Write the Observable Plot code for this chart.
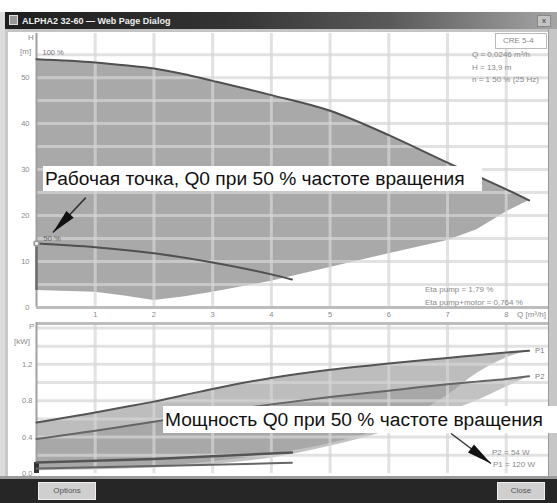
<!DOCTYPE html>
<html><head><meta charset="utf-8">
<script src="https://cdn.jsdelivr.net/npm/d3@7"></script>
<script src="https://cdn.jsdelivr.net/npm/@observablehq/plot@0.6"></script>
<style>
body{margin:0;background:#fff;font-family:Arial,"Liberation Sans",sans-serif}
#win{position:relative;width:557px;height:503px;overflow:hidden;background:#fff}
.abs{position:absolute}
.small{position:absolute;font-size:8px;color:#8a8a8a;white-space:nowrap;line-height:1}
.note{position:absolute;background:#fff;color:#111;font-size:19.2px;white-space:nowrap;box-sizing:border-box;padding-left:2px}
.btn{position:absolute;background:#cfcfcf;border:1px solid #eee;color:#555;font-size:8px;text-align:center;line-height:16px;box-sizing:border-box}
</style></head><body>
<div id="win">
  <div class="abs" style="left:0;top:12px;width:5px;height:491px;background:#dcdcdc"></div>
  <div class="abs" style="left:5px;top:12px;width:552px;height:17px;background:linear-gradient(to right,#1e1e1e,#333 40%,#5a5a5a 70%,#a5a5a5)"></div>
  <div class="abs" style="left:9px;top:15px;width:9px;height:10px;background:#999;border:1px solid #ddd;box-sizing:border-box"></div>
  <div class="abs" id="title" style="left:22px;top:16px;font-size:9px;font-weight:bold;color:#eee;white-space:nowrap">ALPHA2 32-60 — Web Page Dialog</div>
  <div class="abs" style="left:537px;top:15px;width:14px;height:12px;background:#c4c4c4;border:1px solid #888;box-sizing:border-box;font-size:8px;line-height:10px;text-align:center;color:#333">x</div>
  <div class="abs" style="left:5px;top:29px;width:552px;height:3px;background:#c4c4c4"></div>
  <div class="abs" style="left:5px;top:29px;width:3px;height:452px;background:#c8c8c8"></div>
  <div id="topChart" class="abs" style="left:0;top:31px"></div>
  <div id="botChart" class="abs" style="left:0;top:322px"></div>
  <div class="abs" style="left:548px;top:29px;width:9px;height:452px;background:#c6c6c6;border-left:1px solid #9a9a9a;box-sizing:border-box"></div>
  <div class="abs" style="left:0;top:476px;width:557px;height:3px;background:#9a9a9a"></div>
  <div class="abs" style="left:0;top:479px;width:557px;height:24px;background:#262626"></div>
  <div class="btn" style="left:38px;top:482px;width:58px;height:18px">Options</div>
  <div class="btn" style="left:497px;top:482px;width:48px;height:18px">Close</div>

  <div class="small" style="left:28px;top:34px">H</div>
  <div class="small" style="left:20px;top:48px">[m]</div>
  <div class="small" style="left:29px;top:323px">P</div>
  <div class="small" style="left:14px;top:338px">[kW]</div>
  <div class="small" style="left:517px;top:311px">Q [m³/h]</div>

  <div class="abs" style="left:495px;top:33px;width:52px;height:16px;border:1px solid #bbb;box-sizing:border-box;background:#fff"></div>
  <div class="small" style="left:503px;top:37px">CRE 5-4</div>
  <div class="small" style="left:472px;top:51px">Q = 0,0246 m³/h</div>
  <div class="small" style="left:472px;top:64px">H = 13,9 m</div>
  <div class="small" style="left:472px;top:76px">n = 1 50 % (25 Hz)</div>
  <div class="small" style="left:425px;top:286px">Eta pump = 1,79 %</div>
  <div class="small" style="left:425px;top:299px">Eta pump+motor = 0,764 %</div>
  <div class="small" style="left:492px;top:449px">P2 = 54 W</div>
  <div class="small" style="left:493px;top:461px">P1 = 120 W</div>

  <div class="note" style="left:43px;top:166px;width:439px;height:25px;line-height:25px">Рабочая точка, Q0 при 50 % частоте вращения</div>
  <div class="note" style="left:163px;top:406px;width:394px;height:27px;line-height:27px">Мощность Q0 при 50 % частоте вращения</div>
</div>
<script>
// ---- data ----
const flowQ   = [0, 1, 1.5, 2, 2.5, 3, 4, 5, 6, 7, 7.5, 8, 8.39];
const headMax = [54, 53.3, 52.7, 52, 50.8, 49.3, 46.2, 42.8, 37.5, 31.5, 28.6, 25.7, 23.3];
const headMin = [3.7, 3.3, 2.5, 1.5, 2.3, 3.3, 5.7, 8.7, 11.7, 14.6, 16.9, 20.8, 23.3];
const p1Max   = [0.56, 0.67, 0.73, 0.79, 0.86, 0.93, 1.05, 1.14, 1.21, 1.27, 1.30, 1.33, 1.35];
const p1Min   = [0.04, 0.05, 0.06, 0.08, 0.10, 0.13, 0.21, 0.33, 0.52, 0.86, 1.10, 1.27, 1.35];
const p2Max   = [0.38, 0.47, 0.52, 0.57, 0.62, 0.67, 0.76, 0.84, 0.91, 0.98, 1.01, 1.04, 1.07];
const p2Min   = [0.03, 0.04, 0.05, 0.06, 0.08, 0.10, 0.17, 0.30, 0.47, 0.68, 0.80, 0.95, 1.07];
const flow50  = [0, 1, 2, 3, 4, 4.35];
const head50  = [13.9, 13.1, 11.8, 9.8, 7.2, 6.1];
const p1At50  = [0.12, 0.14, 0.16, 0.19, 0.22, 0.23];
const p2At50  = [0.054, 0.068, 0.082, 0.097, 0.112, 0.118];
const qTicks  = [1, 2, 3, 4, 5, 6, 7, 8];
const hTicks  = [0, 10, 20, 30, 40, 50];
const hGrid   = [5, 10, 15, 20, 25, 30, 35, 40, 45, 50, 55];
const pTicks  = [0, 0.4, 0.8, 1.2];
const pGrid   = [0.2, 0.4, 0.6, 0.8, 1.0, 1.2, 1.4, 1.6];
const curveLabels = ["100 %", "50 %", "P1", "P2"];
// annotation arrows (data space): start -> tip
const arrowTop = {x1: 0.84, y1: 23.9, x2: 0.28, y2: 16.3};
const arrowBot = {x1: 7.06, y1: 0.44, x2: 7.74, y2: 0.11};

const env = flowQ.map((q, i) => ({q, hmax: headMax[i], hmin: headMin[i], p1max: p1Max[i], p1min: p1Min[i], p2max: p2Max[i], p2min: p2Min[i]}));
const c50 = flow50.map((q, i) => ({q, h: head50[i], p1: p1At50[i], p2: p2At50[i]}));

const W = 548, ML = 36, xDom = [0, 8.72];
const kx = (W - ML) / (xDom[1] - xDom[0]);
const gridStyle = {stroke: "#d6d6d6", strokeWidth: 3, strokeOpacity: 0.7};
const head = {draw(ctx) { ctx.moveTo(0, 0); ctx.lineTo(5, 25); ctx.lineTo(-5, 25); ctx.closePath(); }};
function rot(a, ky) { return Math.atan2((a.x2 - a.x1) * kx, (a.y2 - a.y1) * ky) * 180 / Math.PI; }

const topH = 292, topMT = 2, topMB = 16, hDom = [0, 59.6];
const kyT = (topH - topMT - topMB) / hDom[1];
const topPlot = Plot.plot({
  width: W, height: topH, marginLeft: ML, marginRight: 0, marginTop: topMT, marginBottom: topMB,
  style: {background: "transparent", fontFamily: "Arial, Liberation Sans, sans-serif", fontSize: "7.5px", color: "#8a8a8a"},
  x: {domain: xDom}, y: {domain: hDom},
  marks: [
    Plot.areaY(env, {x: "q", y1: "hmin", y2: "hmax", fill: "#a9a9a9"}),
    Plot.ruleX(qTicks, gridStyle),
    Plot.ruleY(hGrid, gridStyle),
    Plot.ruleX([0], {stroke: "#a0a0a0", strokeWidth: 2}),
    Plot.ruleX([0], {y1: headMin[0], y2: head50[0], stroke: "#6a6a6a", strokeWidth: 2.5}),
    Plot.ruleY([0], {stroke: "#bdbdbd", strokeWidth: 3}),
    Plot.line(env, {x: "q", y: "hmax", stroke: "#505050", strokeWidth: 2, curve: "monotone-x"}),
    Plot.line(c50, {x: "q", y: "h", stroke: "#505050", strokeWidth: 2, curve: "monotone-x"}),
    Plot.dot([c50[0]], {x: "q", y: "h", r: 2.5, fill: "#eee", stroke: "#999"}),
    Plot.text([{q: flowQ[0], h: headMax[0], t: curveLabels[0]}], {x: "q", y: "h", text: "t", dx: 6, dy: -7, textAnchor: "start", fill: "#777", fontSize: 7.5}),
    Plot.text([{q: flow50[0], h: head50[0], t: curveLabels[1]}], {x: "q", y: "h", text: "t", dx: 7, dy: -5, textAnchor: "start", fill: "#666", fontSize: 7.5}),
    Plot.axisY(hTicks, {tickSize: 0, tickPadding: 7, label: null}),
    Plot.axisX(qTicks, {tickSize: 0, tickPadding: 4, label: null}),
    Plot.link([arrowTop], {x1: "x1", y1: "y1", x2: "x2", y2: "y2", stroke: "#333", strokeWidth: 1.5}),
    Plot.dot([arrowTop], {x: "x2", y: "y2", symbol: head, r: 5, fill: "#111", stroke: "none", rotate: rot(arrowTop, kyT)})
  ]
});
document.getElementById("topChart").append(topPlot);

const botH = 158, botMT = 0, botMB = 7, pDom = [0, 1.66];
const kyB = (botH - botMT - botMB) / pDom[1];
const botPlot = Plot.plot({
  width: W, height: botH, marginLeft: ML, marginRight: 0, marginTop: botMT, marginBottom: botMB,
  style: {background: "transparent", fontFamily: "Arial, Liberation Sans, sans-serif", fontSize: "7.5px", color: "#8a8a8a"},
  x: {domain: xDom, axis: null}, y: {domain: pDom},
  marks: [
    Plot.areaY(env, {x: "q", y1: "p1min", y2: "p1max", fill: "#999", fillOpacity: 0.65, curve: "monotone-x"}),
    Plot.areaY(env, {x: "q", y1: "p2min", y2: "p2max", fill: "#999", fillOpacity: 0.6, curve: "monotone-x"}),
    Plot.ruleX(qTicks, gridStyle),
    Plot.ruleY(pGrid, gridStyle),
    Plot.ruleY([pDom[1]], {stroke: "#bdbdbd", strokeWidth: 5}),
    Plot.ruleX([0], {stroke: "#a0a0a0", strokeWidth: 2}),
    Plot.ruleX([0], {y1: 0, y2: p1At50[0], stroke: "#333", strokeWidth: 5}),
    Plot.line(env, {x: "q", y: "p1max", stroke: "#555", strokeWidth: 2, curve: "monotone-x"}),
    Plot.line(env, {x: "q", y: "p2max", stroke: "#666", strokeWidth: 2, curve: "monotone-x"}),
    Plot.line(c50, {x: "q", y: "p1", stroke: "#555", strokeWidth: 2.5}),
    Plot.line(c50, {x: "q", y: "p2", stroke: "#666", strokeWidth: 2}),
    Plot.text([{q: flowQ[12], p: p1Max[12], t: curveLabels[2]}, {q: flowQ[12], p: p2Max[12], t: curveLabels[3]}], {x: "q", y: "p", text: "t", dx: 6, textAnchor: "start", fill: "#777", fontSize: 7.5}),
    Plot.axisY(pTicks, {tickSize: 0, tickPadding: 4, label: null}),
    Plot.link([arrowBot], {x1: "x1", y1: "y1", x2: "x2", y2: "y2", stroke: "#333", strokeWidth: 1.5}),
    Plot.dot([arrowBot], {x: "x2", y: "y2", symbol: head, r: 5, fill: "#111", stroke: "none", rotate: rot(arrowBot, kyB)})
  ]
});
document.getElementById("botChart").append(botPlot);
</script>
</body></html>
